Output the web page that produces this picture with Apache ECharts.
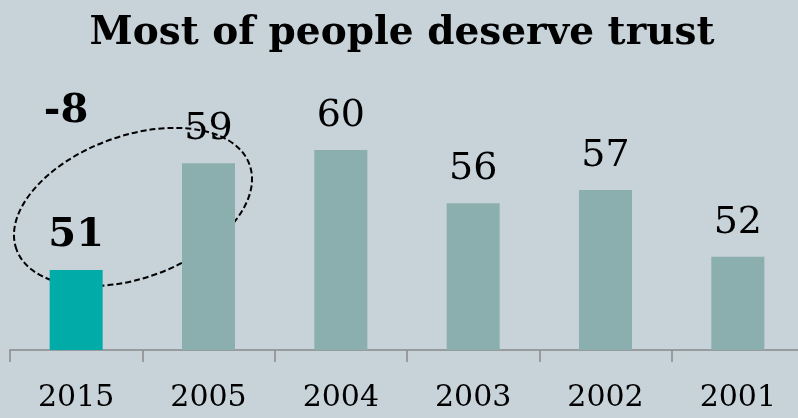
<!DOCTYPE html>
<html><head><meta charset="utf-8">
<script src="https://cdn.jsdelivr.net/npm/echarts@6/dist/echarts.min.js"></script>
<style>html,body{margin:0;padding:0;background:#c7d2d9;overflow:hidden;width:798px;height:418px}#c{width:804px;height:418px}</style>
</head><body><div id="c"></div>
<script>
const categories = ['2015','2005','2004','2003','2002','2001'];
const values = [51, 59, 60, 56, 57, 52];
const highlightIndex = 0;
const changeLabel = '-8';
const titleText = 'Most of people deserve trust';

const FONT = '"DejaVu Serif", serif';
const chart = echarts.init(document.getElementById('c'), null, {renderer: 'canvas'});
const data = values.map((v, i) => i === highlightIndex ? {
  value: v,
  itemStyle: {color: '#00aba8'},
  label: {fontWeight: 'bold', fontSize: 40, distance: 14}
} : {value: v});

chart.setOption({
  backgroundColor: '#c7d2d9',
  animation: false,
  title: {
    text: titleText, left: 'center', top: 9,
    textStyle: {fontFamily: FONT, fontWeight: 'bold', fontSize: 39, color: '#000'}
  },
  grid: {left: 10, right: 0, top: 16.7, bottom: 68, containLabel: false},
  xAxis: {
    type: 'category', data: categories,
    axisLine: {show: true, lineStyle: {color: '#8a8a8a', width: 1.5}},
    axisTick: {show: true, alignWithLabel: false, length: 12, lineStyle: {color: '#8a8a8a', width: 1.5}},
    axisLabel: {fontFamily: FONT, fontSize: 30, color: '#000', margin: 33}
  },
  yAxis: {type: 'value', min: 45, max: 70, show: false, splitLine: {show: false}},
  series: [{
    type: 'bar', data: data, barWidth: 53,
    itemStyle: {color: '#8baeae'},
    label: {show: true, position: 'top', distance: 15, fontFamily: FONT, fontSize: 38, color: '#000'}
  }],
  graphic: [
    {type: 'ellipse', x: 133, y: 207, rotation: 0.35,
     shape: {cx: 0, cy: 0, rx: 124, ry: 71},
     style: {fill: 'none', stroke: '#000', lineWidth: 2, lineDash: [6, 3]}},
    {type: 'text', x: 66, y: 112,
     style: {text: changeLabel, font: 'bold 40px "DejaVu Serif", serif', fill: '#000', align: 'center', verticalAlign: 'middle'}}
  ]
});
</script></body></html>
